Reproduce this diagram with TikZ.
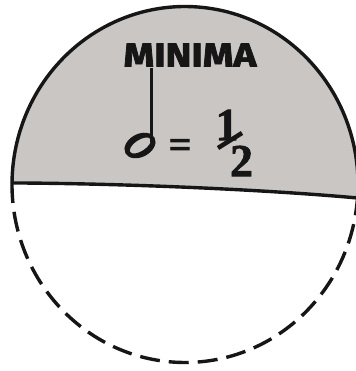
\documentclass[tikz,border=0pt]{standalone}
\usepackage{fontspec}
\newfontfamily\minfont{Fira Sans}[BoldFeatures={FakeBold=2}]
\newfontfamily\numfont{Liberation Serif}[BoldFeatures={FakeBold=1.5}]
\definecolor{shade}{RGB}{201,198,196}
\definecolor{ink}{RGB}{22,22,22}
\begin{document}
\begin{tikzpicture}[x=1pt,y=1pt,
  outline/.style={line width=3.4pt,draw=ink},
  dashline/.style={line width=3.4pt,draw=ink,dash pattern=on 20pt off 9pt},
  lbl/.style={inner sep=0pt,text=ink}]
\useasboundingbox (0,0) rectangle (355,371);
\coordinate (L) at (12.0,188.05);
\coordinate (R) at (357.5,173);
% upper shaded part
\path[fill=shade] (R) arc[start angle=-4.35,end angle=179.5,x radius=173,y radius=178]
  .. controls (130,187.5) and (270,181) .. (R) -- cycle;
\draw[outline] (R) arc[start angle=-4.35,end angle=179.5,x radius=173,y radius=178];
% lower dashed part
\draw[dashline] (L) arc[start angle=179.5,end angle=355.65,x radius=173,y radius=178];
% dividing line
\draw[outline] (L) .. controls (130,187.5) and (270,181) .. (R);
% text
\node[lbl,font=\minfont\bfseries\fontsize{33}{33}\selectfont] (title) at (190,316) {\scalebox{1.18}[1]{MINIMA}};
% half note
\fill[ink,even odd rule] (140,225.5) ellipse[x radius=16.5,y radius=11.5,rotate=28]
  (140.3,225.5) ellipse[x radius=12,y radius=5.6,rotate=33];
\coordinate (stemtop) at (151,303);
\coordinate (stembot) at (151,229);
\draw[line width=3pt,draw=ink] (stemtop) -- (stembot);
\node[lbl,font=\numfont\bfseries\fontsize{40}{40}\selectfont] (eq) at (180,222.5) {=};
\node[lbl,font=\numfont\bfseries\fontsize{46}{46}\selectfont] (one) at (227,246) {1};
\node[lbl,font=\numfont\bfseries\fontsize{46}{46}\selectfont] (two) at (241.5,210) {2};
\coordinate (s1) at (218,223);
\coordinate (s2) at (242,238);
\draw[line width=4.5pt,draw=ink] (s1) -- (s2);
\end{tikzpicture}
\end{document}
